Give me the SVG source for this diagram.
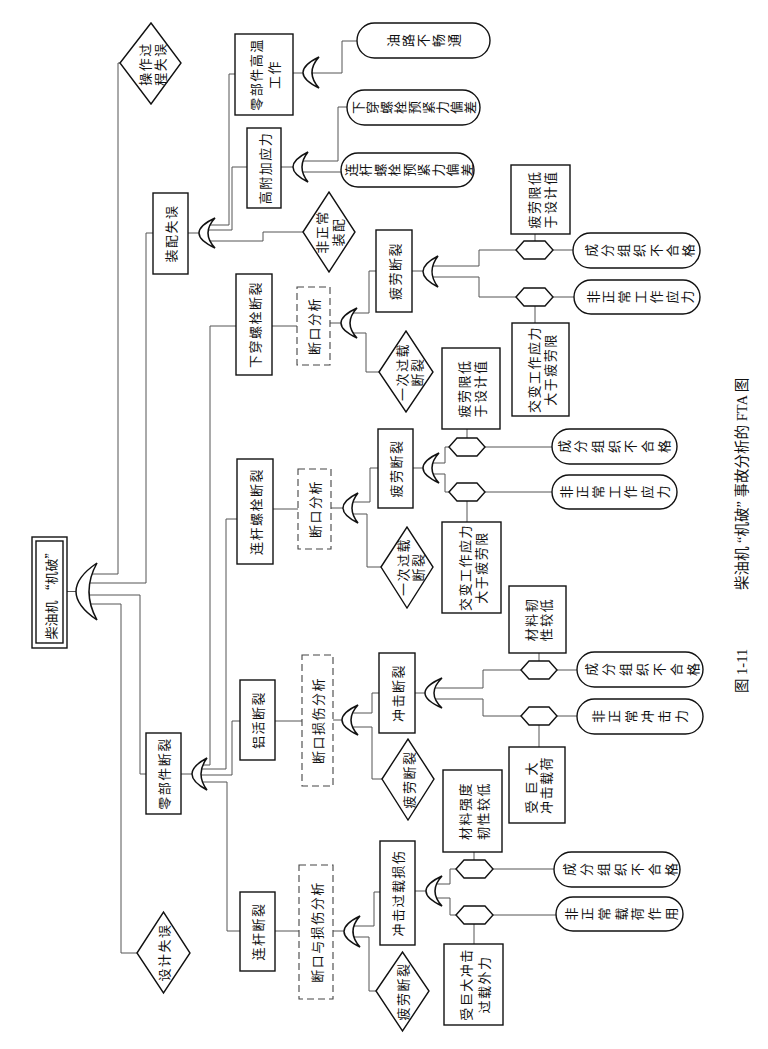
<svg xmlns="http://www.w3.org/2000/svg" width="768" height="1049" viewBox="0 0 768 1049">
<style>
.box{fill:#fff;stroke:#111;stroke-width:1.4}
.dash{fill:#fff;stroke:#444;stroke-width:1.1;stroke-dasharray:7 4}
.gate{fill:#fff;stroke:#111;stroke-width:1.5}
.conn{fill:none;stroke:#555;stroke-width:1}
.t{font-family:"Noto Sans CJK SC","Noto Sans CJK JP",sans-serif;font-size:13px;fill:#111;text-anchor:middle;dominant-baseline:central;letter-spacing:1.5px}
.v{font-family:"Noto Sans CJK SC","Noto Sans CJK JP",sans-serif;font-size:13px;fill:#111;text-anchor:middle;dominant-baseline:central}
.cap{font-family:"Liberation Serif","Noto Sans CJK SC",serif;font-size:14.5px;fill:#111;dominant-baseline:central}
</style>
<rect width="768" height="1049" fill="#fff"/>
<g id="connectors" class="conn">
<path d="M67 591.5H78"/>
<path d="M89 574H118V63H120"/>
<path d="M89 583H146V233H153"/>
<path d="M89 595H140V774H146"/>
<path d="M89 604H121V953H137"/>
<path d="M188 233H200"/>
<path d="M208 225H229V74H235"/>
<path d="M208 230H232V167H247"/>
<path d="M208 241H263V232H303"/>
<path d="M293 73H304"/>
<path d="M312 73H342V41H357"/>
<path d="M281 167H294"/>
<path d="M302 161H338V107H347"/>
<path d="M302 172H341"/>
<path d="M181 774H193"/>
<path d="M201 765H210V326H236"/>
<path d="M201 769H226V519H237"/>
<path d="M201 775H232V721H240"/>
<path d="M201 782H227V931H240"/>
<path d="M272 326H297"/>
<path d="M330 323H342"/>
<path d="M350 313H369V271H376"/>
<path d="M350 333H366V372H379"/>
<path d="M412 271H424"/>
<path d="M432 266H479V250H516"/>
<path d="M432 277H479V297H516"/>
<path d="M553 250H573"/>
<path d="M553 297H574"/>
<path d="M535 234V241"/>
<path d="M535 306V323"/>
<path d="M273 509H298"/>
<path d="M331 508H344"/>
<path d="M352 502H370V468H378"/>
<path d="M352 514H367V567H381"/>
<path d="M413 468H424"/>
<path d="M432 463H445V447H449"/>
<path d="M432 474H445V492H449"/>
<path d="M485 447H552"/>
<path d="M485 492H552"/>
<path d="M467 429V438"/>
<path d="M467 501V522"/>
<path d="M275 721H302"/>
<path d="M333 720H343"/>
<path d="M351 713H372V693H379"/>
<path d="M351 727H372V779H382"/>
<path d="M415 693H426"/>
<path d="M434 688H483V670H521"/>
<path d="M434 699H483V716H521"/>
<path d="M557 670H577"/>
<path d="M557 716H577"/>
<path d="M539 653V661"/>
<path d="M539 725V747"/>
<path d="M275 931H299"/>
<path d="M333 931H345"/>
<path d="M353 926H374V892H380"/>
<path d="M353 937H369V991H376"/>
<path d="M415 891H427"/>
<path d="M435 884H450V869H456"/>
<path d="M435 898H450V915H456"/>
<path d="M493 869H554"/>
<path d="M493 915H556"/>
<path d="M474 852V860"/>
<path d="M474 924V944"/>
</g>
<g id="gates" class="gate">
<path id="g-root" d="M97 563Q55 591.5 97 620Q81 591.5 97 563Z"/>
<path id="g-zp" d="M215 218Q183 233 215 248Q201 233 215 218Z"/>
<path id="g-lbj" d="M207 758Q177 774 207 790Q195 774 207 758Z"/>
<path id="g-gw" d="M319 57Q287 72.5 319 88Q305 72.5 319 57Z"/>
<path id="g-gf" d="M308 152Q278 167 308 182Q296 167 308 152Z"/>
<path id="g-xc" d="M357 308Q325 323 357 338Q343 323 357 308Z"/>
<path id="g-xcpl" d="M438 256Q408 271.5 438 287Q426 271.5 438 256Z"/>
<path id="g-lg" d="M358 493Q328 508 358 523Q346 508 358 493Z"/>
<path id="g-lgpl" d="M439 453Q407 468 439 483Q425 468 439 453Z"/>
<path id="g-lh" d="M358 705Q326 720 358 735Q344 720 358 705Z"/>
<path id="g-cj" d="M442 678Q408 693 442 708Q426 693 442 678Z"/>
<path id="g-lgdl" d="M360 916Q328 931.5 360 947Q346 931.5 360 916Z"/>
<path id="g-cjgz" d="M442 876Q410 891 442 906Q428 891 442 876Z"/>
</g>
<g id="hexes" class="box">
<polygon id="h1" points="516,250 524,241 545,241 553,250 545,259 524,259"/>
<polygon id="h2" points="516,297 524,288 545,288 553,297 545,306 524,306"/>
<polygon id="h3" points="449,447 457,438 477,438 485,447 477,456 457,456"/>
<polygon id="h4" points="449,492 457,483 477,483 485,492 477,501 457,501"/>
<polygon id="h5" points="521,670 529,661 549,661 557,670 549,679 529,679"/>
<polygon id="h6" points="521,716 529,707 549,707 557,716 549,725 529,725"/>
<polygon id="h7" points="456,869 464,860 485,860 493,869 485,878 464,878"/>
<polygon id="h8" points="456,915 464,906 485,906 493,915 485,924 464,924"/>
</g>
<g id="n-root"><rect class="box" x="32" y="537" width="35" height="111"/><rect class="box" x="36" y="541" width="27" height="102"/><text class="t" style="letter-spacing:0" transform="translate(50,592.5) rotate(-90)">柴油机 “机破”</text></g>
<g id="n-czgc"><polygon class="box" points="120,63 151,23 181,63 151,104"/><text class="t" transform="translate(151,64) rotate(-90)"><tspan x="0" y="-7.5">操作过</tspan><tspan x="0" y="7.5">程失误</tspan></text></g>
<g id="n-zpsw"><rect class="box" x="153" y="193" width="35" height="81"/><text class="t" transform="translate(170.5,233.5) rotate(-90)">装配失误</text></g>
<g id="n-lbjdl"><rect class="box" x="146" y="733" width="35" height="81"/><text class="t" transform="translate(163.5,773.5) rotate(-90)">零部件断裂</text></g>
<g id="n-sjsw"><polygon class="box" points="137,953 163.5,912 190,953 163.5,993"/><text class="t" transform="translate(163.5,952.5) rotate(-90)">设计失误</text></g>
<g id="n-gwgz"><rect class="box" x="235" y="34" width="58" height="81"/><text class="t" transform="translate(264,74.5) rotate(-90)"><tspan x="0" y="-9">零部件高温</tspan><tspan x="0" y="9">工作</tspan></text></g>
<g id="n-gfyl"><rect class="box" x="247" y="128" width="34" height="80"/><text class="t" transform="translate(264,168) rotate(-90)">高附加应力</text></g>
<g id="n-fzczp"><polygon class="box" points="303,232 329,192 355,232 329,272"/><text class="t" transform="translate(329,232) rotate(-90)"><tspan x="0" y="-8">非正常</tspan><tspan x="0" y="8">装配</tspan></text></g>
<g id="n-ylbct"><rect class="box" x="357" y="23" width="133" height="35" rx="17.5"/>
<text class="v" x="392" y="40.5" transform="rotate(-90 392 40.5)">油</text>
<text class="v" x="407.3" y="40.5" transform="rotate(-90 407.3 40.5)">路</text>
<text class="v" x="422.6" y="40.5" transform="rotate(-90 422.6 40.5)">不</text>
<text class="v" x="437.9" y="40.5" transform="rotate(-90 437.9 40.5)">畅</text>
<text class="v" x="453.2" y="40.5" transform="rotate(-90 453.2 40.5)">通</text></g>
<g id="n-xcys"><rect class="box" x="347" y="90" width="133" height="35" rx="17.5"/>
<text class="v" x="357" y="107.5" transform="rotate(-90 357 107.5)">下</text>
<text class="v" x="371.1" y="107.5" transform="rotate(-90 371.1 107.5)">穿</text>
<text class="v" x="385.2" y="107.5" transform="rotate(-90 385.2 107.5)">螺</text>
<text class="v" x="399.3" y="107.5" transform="rotate(-90 399.3 107.5)">栓</text>
<text class="v" x="413.4" y="107.5" transform="rotate(-90 413.4 107.5)">预</text>
<text class="v" x="427.5" y="107.5" transform="rotate(-90 427.5 107.5)">紧</text>
<text class="v" x="441.6" y="107.5" transform="rotate(-90 441.6 107.5)">力</text>
<text class="v" x="455.7" y="107.5" transform="rotate(-90 455.7 107.5)">偏</text>
<text class="v" x="469.8" y="107.5" transform="rotate(-90 469.8 107.5)">差</text></g>
<g id="n-lgys"><rect class="box" x="341" y="153" width="133" height="34" rx="17"/>
<text class="v" x="350" y="170" transform="rotate(-90 350 170)">连</text>
<text class="v" x="364.5" y="170" transform="rotate(-90 364.5 170)">杆</text>
<text class="v" x="379" y="170" transform="rotate(-90 379 170)">螺</text>
<text class="v" x="393.5" y="170" transform="rotate(-90 393.5 170)">栓</text>
<text class="v" x="408" y="170" transform="rotate(-90 408 170)">预</text>
<text class="v" x="422.5" y="170" transform="rotate(-90 422.5 170)">紧</text>
<text class="v" x="437" y="170" transform="rotate(-90 437 170)">力</text>
<text class="v" x="451.5" y="170" transform="rotate(-90 451.5 170)">偏</text>
<text class="v" x="466" y="170" transform="rotate(-90 466 170)">差</text></g>
<g id="n-xclsdl"><rect class="box" x="236" y="274" width="36" height="101"/><text class="t" transform="translate(254,324.5) rotate(-90)">下穿螺栓断裂</text></g>
<g id="n-lglsdl"><rect class="box" x="237" y="459" width="36" height="105"/><text class="t" transform="translate(255,511.5) rotate(-90)">连杆螺栓断裂</text></g>
<g id="n-lhdl"><rect class="box" x="240" y="680" width="35" height="80"/><text class="t" transform="translate(257.5,720) rotate(-90)">铝活断裂</text></g>
<g id="n-lgdl"><rect class="box" x="240" y="892" width="35" height="79"/><text class="t" transform="translate(257.5,931.5) rotate(-90)">连杆断裂</text></g>
<g id="n-dkfx1"><rect class="dash" x="297" y="287" width="33" height="78"/><text class="t" transform="translate(313.5,326) rotate(-90)">断口分析</text></g>
<g id="n-dkfx2"><rect class="dash" x="298" y="469" width="33" height="80"/><text class="t" transform="translate(314.5,509) rotate(-90)">断口分析</text></g>
<g id="n-dkssfx"><rect class="dash" x="302" y="655" width="31" height="131"/><text class="t" transform="translate(317.5,720.5) rotate(-90)">断口损伤分析</text></g>
<g id="n-dkyssfx"><rect class="dash" x="299" y="865" width="34" height="134"/><text class="t" transform="translate(316,932) rotate(-90)">断口与损伤分析</text></g>
<g id="n-pldl1"><rect class="box" x="376" y="230" width="36" height="82"/><text class="t" transform="translate(394,271) rotate(-90)">疲劳断裂</text></g>
<g id="n-ycgz1"><polygon class="box" points="379,372 406,331 433,372 406,412"/><text class="t" transform="translate(408,372) rotate(-90)"><tspan x="0" y="-7.5">一次过载</tspan><tspan x="0" y="7.5">断裂</tspan></text></g>
<g id="n-plxd1"><rect class="box" x="511" y="165" width="59" height="69"/><text class="t" transform="translate(540.5,199.5) rotate(-90)"><tspan x="0" y="-8">疲劳限低</tspan><tspan x="0" y="8">于设计值</tspan></text></g>
<g id="n-jb1"><rect class="box" x="512" y="323" width="57" height="93"/><text class="t" transform="translate(540.5,369.5) rotate(-90)"><tspan x="0" y="-8">交变工作应力</tspan><tspan x="0" y="8">大于疲劳限</tspan></text></g>
<g id="n-cf1"><rect class="box" x="573" y="233" width="127" height="35" rx="17.5"/>
<text class="v" x="590" y="250.5" transform="rotate(-90 590 250.5)">成</text>
<text class="v" x="606.3" y="250.5" transform="rotate(-90 606.3 250.5)">分</text>
<text class="v" x="622.6" y="250.5" transform="rotate(-90 622.6 250.5)">组</text>
<text class="v" x="638.9" y="250.5" transform="rotate(-90 638.9 250.5)">织</text>
<text class="v" x="655.2" y="250.5" transform="rotate(-90 655.2 250.5)">不</text>
<text class="v" x="671.5" y="250.5" transform="rotate(-90 671.5 250.5)">合</text>
<text class="v" x="687.8" y="250.5" transform="rotate(-90 687.8 250.5)">格</text></g>
<g id="n-fz1"><rect class="box" x="574" y="280" width="126" height="34" rx="17"/>
<text class="v" x="592" y="297" transform="rotate(-90 592 297)">非</text>
<text class="v" x="607.8" y="297" transform="rotate(-90 607.8 297)">正</text>
<text class="v" x="623.6" y="297" transform="rotate(-90 623.6 297)">常</text>
<text class="v" x="639.4" y="297" transform="rotate(-90 639.4 297)">工</text>
<text class="v" x="655.2" y="297" transform="rotate(-90 655.2 297)">作</text>
<text class="v" x="671" y="297" transform="rotate(-90 671 297)">应</text>
<text class="v" x="686.8" y="297" transform="rotate(-90 686.8 297)">力</text></g>
<g id="n-pldl2"><rect class="box" x="378" y="429" width="35" height="79"/><text class="t" transform="translate(395.5,468.5) rotate(-90)">疲劳断裂</text></g>
<g id="n-ycgz2"><polygon class="box" points="381,567 407,527 433,567 407,608"/><text class="t" transform="translate(409,567) rotate(-90)"><tspan x="0" y="-7.5">一次过载</tspan><tspan x="0" y="7.5">断裂</tspan></text></g>
<g id="n-plxd2"><rect class="box" x="442" y="348" width="58" height="81"/><text class="t" transform="translate(471,388.5) rotate(-90)"><tspan x="0" y="-8">疲劳限低</tspan><tspan x="0" y="8">于设计值</tspan></text></g>
<g id="n-jb2"><rect class="box" x="442" y="522" width="59" height="91"/><text class="t" transform="translate(471.5,567.5) rotate(-90)"><tspan x="0" y="-8">交变工作应力</tspan><tspan x="0" y="8">大于疲劳限</tspan></text></g>
<g id="n-cf2"><rect class="box" x="552" y="429" width="125" height="35" rx="17.5"/>
<text class="v" x="563" y="446.5" transform="rotate(-90 563 446.5)">成</text>
<text class="v" x="579.7" y="446.5" transform="rotate(-90 579.7 446.5)">分</text>
<text class="v" x="596.4" y="446.5" transform="rotate(-90 596.4 446.5)">组</text>
<text class="v" x="613.1" y="446.5" transform="rotate(-90 613.1 446.5)">织</text>
<text class="v" x="629.8" y="446.5" transform="rotate(-90 629.8 446.5)">不</text>
<text class="v" x="646.5" y="446.5" transform="rotate(-90 646.5 446.5)">合</text>
<text class="v" x="663.2" y="446.5" transform="rotate(-90 663.2 446.5)">格</text></g>
<g id="n-fz2"><rect class="box" x="552" y="475" width="125" height="34" rx="17"/>
<text class="v" x="565" y="492" transform="rotate(-90 565 492)">非</text>
<text class="v" x="581.2" y="492" transform="rotate(-90 581.2 492)">正</text>
<text class="v" x="597.4" y="492" transform="rotate(-90 597.4 492)">常</text>
<text class="v" x="613.6" y="492" transform="rotate(-90 613.6 492)">工</text>
<text class="v" x="629.8" y="492" transform="rotate(-90 629.8 492)">作</text>
<text class="v" x="646" y="492" transform="rotate(-90 646 492)">应</text>
<text class="v" x="662.2" y="492" transform="rotate(-90 662.2 492)">力</text></g>
<g id="n-cjdl"><rect class="box" x="379" y="653" width="36" height="80"/><text class="t" transform="translate(397,693) rotate(-90)">冲击断裂</text></g>
<g id="n-pldl3"><polygon class="box" points="382,779 408,739 434,779 408,820"/><text class="t" transform="translate(408,779.5) rotate(-90)">疲劳断裂</text></g>
<g id="n-clrx"><rect class="box" x="509" y="586" width="57" height="67"/><text class="t" transform="translate(537.5,619.5) rotate(-90)"><tspan x="0" y="-7.5">材料韧</tspan><tspan x="0" y="7.5">性较低</tspan></text></g>
<g id="n-sjdzh"><rect class="box" x="509" y="747" width="56" height="76"/><text class="t" transform="translate(537,785) rotate(-90)"><tspan x="0" y="-7.5" style="letter-spacing:6px">受巨大</tspan><tspan x="0" y="7.5">冲击载荷</tspan></text></g>
<g id="n-cf3"><rect class="box" x="577" y="652" width="126" height="35" rx="17.5"/>
<text class="v" x="590" y="669.5" transform="rotate(-90 590 669.5)">成</text>
<text class="v" x="607" y="669.5" transform="rotate(-90 607 669.5)">分</text>
<text class="v" x="624" y="669.5" transform="rotate(-90 624 669.5)">组</text>
<text class="v" x="641" y="669.5" transform="rotate(-90 641 669.5)">织</text>
<text class="v" x="658" y="669.5" transform="rotate(-90 658 669.5)">不</text>
<text class="v" x="675" y="669.5" transform="rotate(-90 675 669.5)">合</text>
<text class="v" x="692" y="669.5" transform="rotate(-90 692 669.5)">格</text></g>
<g id="n-fcj"><rect class="box" x="577" y="699" width="126" height="35" rx="17.5"/>
<text class="v" x="597" y="716.5" transform="rotate(-90 597 716.5)">非</text>
<text class="v" x="613.6" y="716.5" transform="rotate(-90 613.6 716.5)">正</text>
<text class="v" x="630.2" y="716.5" transform="rotate(-90 630.2 716.5)">常</text>
<text class="v" x="646.8" y="716.5" transform="rotate(-90 646.8 716.5)">冲</text>
<text class="v" x="663.4" y="716.5" transform="rotate(-90 663.4 716.5)">击</text>
<text class="v" x="680" y="716.5" transform="rotate(-90 680 716.5)">力</text></g>
<g id="n-cjgzss"><rect class="box" x="380" y="841" width="35" height="104"/><text class="t" transform="translate(397.5,893) rotate(-90)">冲击过载损伤</text></g>
<g id="n-pldl4"><polygon class="box" points="376,991 402.5,952 429,991 402.5,1031"/><text class="t" transform="translate(402.5,991.5) rotate(-90)">疲劳断裂</text></g>
<g id="n-clqd"><rect class="box" x="443" y="770" width="59" height="82"/><text class="t" transform="translate(472.5,811) rotate(-90)"><tspan x="0" y="-9">材料强度</tspan><tspan x="0" y="9">韧性较低</tspan></text></g>
<g id="n-sjdgz"><rect class="box" x="444" y="944" width="59" height="81"/><text class="t" transform="translate(473.5,984.5) rotate(-90)"><tspan x="0" y="-9">受巨大冲击</tspan><tspan x="0" y="9">过载外力</tspan></text></g>
<g id="n-cf4"><rect class="box" x="554" y="852" width="126" height="35" rx="17.5"/>
<text class="v" x="568" y="869.5" transform="rotate(-90 568 869.5)">成</text>
<text class="v" x="585" y="869.5" transform="rotate(-90 585 869.5)">分</text>
<text class="v" x="602" y="869.5" transform="rotate(-90 602 869.5)">组</text>
<text class="v" x="619" y="869.5" transform="rotate(-90 619 869.5)">织</text>
<text class="v" x="636" y="869.5" transform="rotate(-90 636 869.5)">不</text>
<text class="v" x="653" y="869.5" transform="rotate(-90 653 869.5)">合</text>
<text class="v" x="670" y="869.5" transform="rotate(-90 670 869.5)">格</text></g>
<g id="n-fzzh"><rect class="box" x="556" y="897" width="127" height="34" rx="17"/>
<text class="v" x="570" y="914" transform="rotate(-90 570 914)">非</text>
<text class="v" x="586.7" y="914" transform="rotate(-90 586.7 914)">正</text>
<text class="v" x="603.4" y="914" transform="rotate(-90 603.4 914)">常</text>
<text class="v" x="620.1" y="914" transform="rotate(-90 620.1 914)">载</text>
<text class="v" x="636.8" y="914" transform="rotate(-90 636.8 914)">荷</text>
<text class="v" x="653.5" y="914" transform="rotate(-90 653.5 914)">作</text>
<text class="v" x="670.2" y="914" transform="rotate(-90 670.2 914)">用</text></g>
<text id="caption" class="cap" transform="translate(742,0) rotate(-90)"><tspan x="-693" y="0">图 1-11</tspan><tspan x="-590" y="0">柴油机 “机破” 事故分析的 FTA 图</tspan></text>
</svg>
